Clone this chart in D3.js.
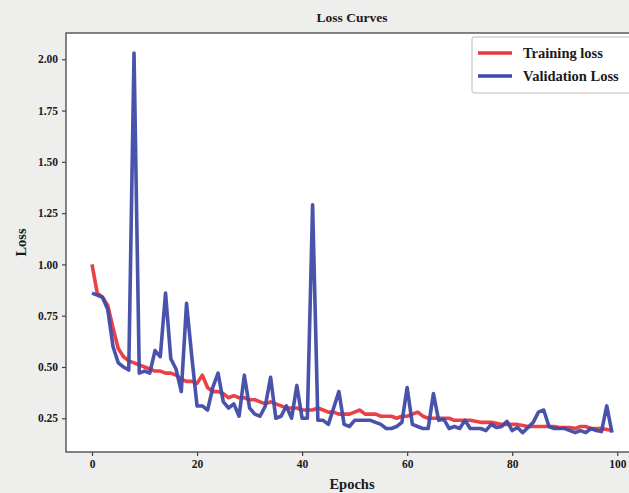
<!DOCTYPE html>
<html>
<head>
<meta charset="utf-8">
<script src="https://cdn.jsdelivr.net/npm/d3@7"></script>
<style>
  body { margin: 0; background: #eeeeec; }
  text { font-family: "Liberation Serif", "DejaVu Serif", serif; font-weight: bold; fill: #1a1a1a; }
</style>
</head>
<body>
<div id="chart-area"></div>
<script>
var epochs = d3.range(0, 100);
var trainLoss = [
  1.00, 0.86, 0.84, 0.80, 0.69, 0.59, 0.55, 0.53, 0.52, 0.51,
  0.50, 0.49, 0.48, 0.48, 0.47, 0.47, 0.46, 0.44, 0.43, 0.43,
  0.42, 0.46, 0.40, 0.38, 0.38, 0.37, 0.35, 0.36, 0.35, 0.35,
  0.34, 0.34, 0.33, 0.32, 0.33, 0.32, 0.31, 0.30, 0.30, 0.30,
  0.29, 0.29, 0.29, 0.30, 0.29, 0.28, 0.28, 0.27, 0.27, 0.27,
  0.28, 0.29, 0.27, 0.27, 0.27, 0.26, 0.26, 0.26, 0.25, 0.26,
  0.26, 0.27, 0.28, 0.26, 0.25, 0.25, 0.25, 0.25, 0.25, 0.24,
  0.24, 0.24, 0.24, 0.235, 0.23, 0.23, 0.23, 0.225, 0.22, 0.22,
  0.22, 0.22, 0.215, 0.21, 0.21, 0.21, 0.21, 0.21, 0.21, 0.205,
  0.205, 0.205, 0.20, 0.21, 0.21, 0.20, 0.20, 0.20, 0.195, 0.19
];
var valLoss = [
  0.86, 0.85, 0.84, 0.78, 0.60, 0.52, 0.50, 0.485, 2.03, 0.47,
  0.48, 0.47, 0.58, 0.55, 0.86, 0.54, 0.49, 0.38, 0.81, 0.55,
  0.31, 0.31, 0.29, 0.40, 0.47, 0.33, 0.30, 0.32, 0.26, 0.46,
  0.30, 0.27, 0.26, 0.31, 0.45, 0.25, 0.26, 0.31, 0.25, 0.41,
  0.25, 0.25, 1.29, 0.24, 0.24, 0.22, 0.30, 0.38, 0.22, 0.21,
  0.24, 0.24, 0.24, 0.24, 0.23, 0.22, 0.20, 0.20, 0.21, 0.23,
  0.40, 0.22, 0.21, 0.20, 0.20, 0.37, 0.24, 0.245, 0.20, 0.21,
  0.20, 0.24, 0.20, 0.20, 0.20, 0.19, 0.22, 0.205, 0.21, 0.235,
  0.19, 0.205, 0.18, 0.205, 0.23, 0.28, 0.29, 0.21, 0.20, 0.20,
  0.20, 0.19, 0.18, 0.19, 0.18, 0.20, 0.19, 0.185, 0.31, 0.18
];
var xTicks = [0, 20, 40, 60, 80, 100];
var yTicks = [0.25, 0.50, 0.75, 1.00, 1.25, 1.50, 1.75, 2.00];
var seriesNames = ["Training loss", "Validation Loss"];
var colors = ["#e8383c", "#3f4aa8"];

var width = 629, height = 493;
var plot = {left: 66, right: 638, top: 33, bottom: 452};

var svg = d3.select("#chart-area").append("svg")
    .attr("width", width)
    .attr("height", height);

svg.append("rect").attr("width", width).attr("height", height).attr("fill", "#eeeeec");

var x = d3.scaleLinear()
    .domain([-4.95, 103.95])
    .range([plot.left, plot.right]);
var y = d3.scaleLinear()
    .domain([0.0855, 2.128])
    .range([plot.bottom, plot.top]);

svg.append("rect")
    .attr("x", plot.left).attr("y", plot.top)
    .attr("width", plot.right - plot.left).attr("height", plot.bottom - plot.top)
    .attr("fill", "#ffffff");

svg.append("clipPath").attr("id", "clip")
  .append("rect")
    .attr("x", plot.left).attr("y", plot.top)
    .attr("width", plot.right - plot.left).attr("height", plot.bottom - plot.top);

var line = d3.line()
    .x((d, i) => x(epochs[i]))
    .y(d => y(d));

var lines = svg.append("g").attr("clip-path", "url(#clip)");
[trainLoss, valLoss].forEach((s, k) => {
  lines.append("path")
      .datum(s)
      .attr("fill", "none")
      .attr("stroke", colors[k])
      .attr("stroke-width", 3.6)
      .attr("stroke-linejoin", "round")
      .attr("opacity", 0.95)
      .attr("d", line);
});

// frame
svg.append("rect")
    .attr("x", plot.left).attr("y", plot.top)
    .attr("width", plot.right - plot.left).attr("height", plot.bottom - plot.top)
    .attr("fill", "none")
    .attr("stroke", "#444")
    .attr("stroke-width", 1.3);

var xAxis = svg.append("g")
    .attr("transform", "translate(0," + plot.bottom + ")")
    .call(d3.axisBottom(x).tickValues(xTicks).tickSize(4).tickPadding(4).tickFormat(d3.format("d")));
var yAxis = svg.append("g")
    .attr("transform", "translate(" + plot.left + ",0)")
    .call(d3.axisLeft(y).tickValues(yTicks).tickSize(4).tickPadding(4).tickFormat(d3.format(".2f")));
[xAxis, yAxis].forEach(a => {
  a.select(".domain").remove();
  a.selectAll(".tick line").attr("stroke", "#444").attr("stroke-width", 1.2);
  a.selectAll(".tick text").attr("font-size", 11.5).style("font-family", "Liberation Serif, serif").style("font-weight", "bold").attr("fill", "#1a1a1a");
});

svg.append("text")
    .attr("x", (plot.left + plot.right) / 2).attr("y", 22)
    .attr("text-anchor", "middle").attr("font-size", 13.5)
    .text("Loss Curves");
svg.append("text")
    .attr("x", (plot.left + plot.right) / 2).attr("y", 489)
    .attr("text-anchor", "middle").attr("font-size", 14.5)
    .text("Epochs");
svg.append("text")
    .attr("transform", "translate(26," + (plot.top + plot.bottom) / 2 + ") rotate(-90)")
    .attr("text-anchor", "middle").attr("font-size", 14.5)
    .text("Loss");

// legend
var legend = svg.append("g");
legend.append("rect")
    .attr("x", 472).attr("y", 37).attr("width", 180).attr("height", 56)
    .attr("rx", 2)
    .attr("fill", "#ffffff").attr("stroke", "#bbb").attr("stroke-width", 1);
seriesNames.forEach((n, i) => {
  legend.append("line")
      .attr("x1", 478).attr("x2", 512)
      .attr("y1", 53 + i * 23).attr("y2", 53 + i * 23)
      .attr("stroke", colors[i]).attr("stroke-width", 3.6);
  legend.append("text")
      .attr("x", 523).attr("y", 58 + i * 23)
      .attr("font-size", 14.5)
      .text(n);
});
</script>
</body>
</html>
